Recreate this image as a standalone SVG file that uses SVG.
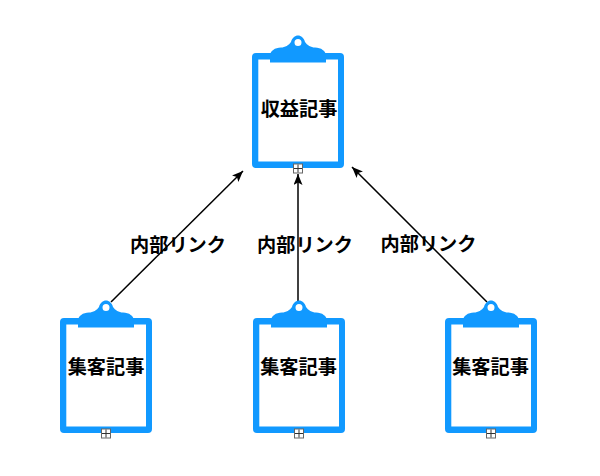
<svg xmlns="http://www.w3.org/2000/svg" width="600" height="476" viewBox="0 0 600 476">
<style>
text{font-family:"Liberation Sans","Noto Sans CJK JP",sans-serif;font-size:19.200px;font-weight:700;fill:#000;text-anchor:middle}
.edge{fill:none;stroke:#000;stroke-width:1.5}
.exp{fill:#fff;stroke:#666;stroke-width:1}
.expm{fill:none;stroke:#333;stroke-width:1}
</style>
<defs>
<marker id="arrow" markerUnits="userSpaceOnUse" markerWidth="12" markerHeight="10" refX="11" refY="4.500" orient="auto"><path d="M0 0L11 4.500L0 9L2.500 4.500Z" fill="#000"/></marker>
<g id="board">
<path fill="#1199ff" fill-rule="evenodd" d="M-42 0H42a4 4 0 0 1 4 4V111a4 4 0 0 1-4 4H-42a4 4 0 0 1-4-4V4a4 4 0 0 1 4-4ZM-39.700 6.500V108.500H40V6.500Z"/>
<path fill="#1199ff" fill-rule="evenodd" d="M-28 9.500V3C-28-2-23-5.500-17-5.500C-13-5.500-9-8-7-11C-6-15-3-17.500 0-17.500C3-17.500 6-15 7-11C9-8 13-5.500 17-5.500C23-5.500 28-2 28 3V9.500ZM0-14a3.500 3.500 0 1 0 0 7a3.500 3.500 0 1 0 0-7Z"/>
<rect class="exp" x="-4.500" y="111" width="9" height="9"/>
<path class="expm" d="M-4 115.500H4M0 111.500V119.500"/>
</g>
</defs>
<g id="connectors">
<path class="edge" marker-end="url(#arrow)" d="M111 302L243 171"/>
<path class="edge" marker-end="url(#arrow)" d="M298 303V174"/>
<path class="edge" marker-end="url(#arrow)" d="M487 302L352 167"/>
</g>
<g id="edge-labels">
<text x="178" y="252">内部リンク</text>
<text x="305" y="252">内部リンク</text>
<text x="428.500" y="251">内部リンク</text>
</g>
<g id="node-revenue"><use href="#board" x="298" y="53"/><text x="299" y="115.500">収益記事</text></g>
<g id="node-a"><use href="#board" x="106" y="318"/><text x="106" y="374">集客記事</text></g>
<g id="node-b"><use href="#board" x="299" y="318"/><text x="298.500" y="374">集客記事</text></g>
<g id="node-c"><use href="#board" x="491" y="318"/><text x="490.500" y="374">集客記事</text></g>
</svg>
